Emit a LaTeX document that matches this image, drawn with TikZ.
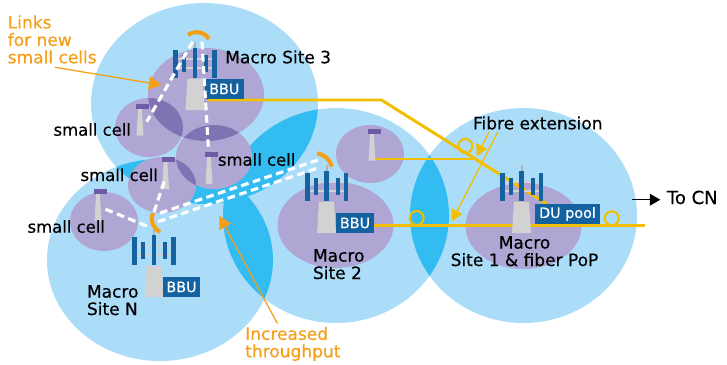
\documentclass[tikz,border=0pt]{standalone}
\usepackage{fontspec}
\setmainfont{DejaVu Sans}[FakeBold=0.4]
\usetikzlibrary{arrows.meta}
\definecolor{celllight}{HTML}{ABDDF9}
\definecolor{celldark}{HTML}{33BCF2}
\definecolor{cellpurple}{HTML}{AFA6D3}
\definecolor{overlappurple}{HTML}{8073B3}
\definecolor{towergrey}{HTML}{D2D2D2}
\definecolor{capurple}{HTML}{6F5BA5}
\definecolor{bbublue}{HTML}{1462A0}
\definecolor{linkorange}{HTML}{F59E17}
\definecolor{fibreyellow}{HTML}{F2BE00}
\tikzset{
  lbl/.style={inner sep=0pt,anchor=base west,align=left,font=\fontsize{12.1}{12.4}\selectfont},
  celllbl/.style={lbl,font=\fontsize{11.7}{12.4}\selectfont},
  boxlbl/.style={inner sep=0pt,fill=bbublue,text=white,minimum height=14.2pt,font=\fontsize{10.2}{12}\selectfont},
  wlink/.style={white,line width=2.2pt,dash pattern=on 5.5pt off 3.2pt},
  fibre/.style={fibreyellow,line width=2.1pt},
  fibrearrow/.style={fibreyellow,line width=0.9pt,-{Triangle[length=2.8mm,width=3mm]}},
  orangearrow/.style={linkorange,line width=0.9pt,-{Triangle[length=3.2mm,width=3.3mm]}},
  dish/.style={linkorange,line width=2.9pt},
  macrotower/.pic={
    \fill[towergrey] (-9.5,0) -- (-7.5,-31.5) -- (7.5,-31.5) -- (9.5,0) -- cycle;
    \draw[towergrey,line width=1pt] (-18,-51) -- (18,-51) (-18,-42) -- (18,-42);
    \foreach \bl/\br/\bt/\bb in {-21.7/-17/-60/-32,-13/-9/-54.7/-38,-2.3/2.3/-62/-32,9/13/-54.7/-38,17/21.7/-60/-32}
      \fill[bbublue] (\bl,\bt) rectangle (\br,\bb);
    \fill[gray!60] (-1,-68) rectangle (1,-62);
  },
  smalltower/.pic={
    \fill[towergrey] (-3.5,0) -- (-1.8,-27) -- (1.8,-27) -- (3.5,0) -- cycle;
    \fill[capurple] (-4,-32) rectangle (9,-27);
  }
}
\begin{document}
\begin{tikzpicture}[x=0.025cm,y=-0.025cm]
\useasboundingbox (0,0) rectangle (727,364);
%coverage areas
\fill[celllight] (204.5,103.5) ellipse [x radius=113.5,y radius=100.5];
\fill[celllight] (160,260) ellipse [x radius=113,y radius=101];
\fill[celllight] (336,215.5) ellipse [x radius=113,y radius=107.5];
\fill[celllight] (523.5,215.5) ellipse [x radius=113.5,y radius=107.5];
\foreach \ax/\ay/\arx/\ary/\bx/\by/\brx/\bry in {204.5/103.5/113.5/100.5/160/260/113/101,204.5/103.5/113.5/100.5/336/215.5/113/107.5,160/260/113/101/336/215.5/113/107.5,336/215.5/113/107.5/523.5/215.5/113.5/107.5}{
  \begin{scope}
    \clip (\ax,\ay) ellipse [x radius=\arx,y radius=\ary];
    \fill[celldark] (\bx,\by) ellipse [x radius=\brx,y radius=\bry];
  \end{scope}
}
%purple cells
\foreach \cx/\cy/\crx/\cry in {206/94.5/58/46.5,149/127.5/34/29.5,214/157/38/32,162/185/34/28,104/221.5/34/29.5,335.5/225/58/43,370/154/34/29,523.5/226/58/43}
  \fill[cellpurple] (\cx,\cy) ellipse [x radius=\crx,y radius=\cry];
\foreach \ax/\ay/\arx/\ary/\bx/\by/\brx/\bry in {206/94.5/58/46.5/149/127.5/34/29.5,206/94.5/58/46.5/214/157/38/32,214/157/38/32/162/185/34/28}{
  \begin{scope}
    \clip (\ax,\ay) ellipse [x radius=\arx,y radius=\ary];
    \fill[overlappurple] (\bx,\by) ellipse [x radius=\brx,y radius=\bry];
  \end{scope}
}
%fibre
\coordinate (bbuend) at (208,100);
\coordinate (bendtop) at (381.5,100);
\coordinate (cellstart) at (375.3,159);
\coordinate (cellend) at (475.3,159);
\coordinate (poptop) at (547,204);
\coordinate (mainstart) at (374,225.3);
\coordinate (mainend) at (645,225.3);
\draw[fibre] (bbuend) -- (bendtop) -- (poptop);
\draw[fibre] (cellstart) -- (cellend);
\draw[fibre] (mainstart) -- (mainend);
\draw[fibreyellow,line width=1.5pt] (416.7,218) circle [radius=7] (611.7,218.3) circle [radius=7] (465.3,146) circle [radius=7];
%towers
\pic at (195,110) {macrotower};
\pic at (154,297) {macrotower};
\pic at (326.5,233) {macrotower};
\pic at (521.5,233) {macrotower};
\pic at (140,135.7) {smalltower};
\pic at (209,184) {smalltower};
\pic at (165.5,189) {smalltower};
\pic at (98,221) {smalltower};
\pic at (372,160.7) {smalltower};
\node[boxlbl,minimum width=28pt] (bbuthree) at (224.3,89) {BBU};
\node[boxlbl,minimum width=26.3pt] (bbun) at (181.5,287) {BBU};
\node[boxlbl,minimum width=27pt] (bbutwo) at (355,223) {BBU};
\node[boxlbl,minimum width=46.2pt] (dupool) at (567.5,214) {DU pool};
%dishes and radio links
\draw[dish] (188,35) .. controls (194,30.5) and (204,31) .. (209,39);
\draw[dish] (153,213) .. controls (150,219) and (152,227) .. (160,232);
\draw[dish] (317.3,153.3) .. controls (324,154.5) and (330,159) .. (331.7,166.7);
\draw[wlink] (192.7,41.7) -- (146.7,121.7);
\draw[wlink] (202,41.7) -- (208.3,146.7);
\draw[wlink] (146.7,226) -- (105,209);
\draw[wlink] (154,212) -- (165,179);
\draw[wlink] (160,213) -- (318,160);
\draw[wlink] (158,221.7) -- (318,168);
%labels
\node[lbl] (macrothree) at (225,63.3) {Macro Site 3};
\node[celllbl] (smalla) at (53.3,135.7) {small cell};
\node[celllbl] (smallb) at (217.7,165.7) {small cell};
\node[celllbl] (smallc) at (80.3,181) {small cell};
\node[celllbl] (smalld) at (27.3,232.7) {small cell};
\node[lbl] (macron) at (86.7,315) {Macro\\Site N};
\node[lbl] (macrotwo) at (312.7,279) {Macro\\Site 2};
\node[lbl,align=center,anchor=base] (macroone) at (524.5,266) {Macro\\Site 1 \& fiber PoP};
\node[lbl] (fibrelbl) at (472.7,129.3) {Fibre extension};
\node[lbl,font=\fontsize{12.8}{13}\selectfont] (tocn) at (666.7,204) {To CN};
\node[lbl,text=linkorange] (links) at (7.5,63.3) {Links\\for new\\small cells};
\node[lbl,text=linkorange] (throughput) at (245,357.3) {Increased\\throughput};
%arrows
\coordinate (linksfrom) at (55,67.3);
\coordinate (linksto) at (161.7,85);
\coordinate (incrfrom) at (277.3,323.3);
\coordinate (incrto) at (219.3,215.7);
\coordinate (fibrea) at (489.3,131.7);
\coordinate (fibreb) at (476.7,156);
\coordinate (fibrec) at (498,131.7);
\coordinate (fibred) at (452,221);
\coordinate (cnfrom) at (632.3,199.7);
\coordinate (cnto) at (660.3,199.7);
\draw[orangearrow] (linksfrom) -- (linksto);
\draw[orangearrow] (incrfrom) -- (incrto);
\draw[fibrearrow] (fibrea) -- (fibreb);
\draw[fibrearrow] (fibrec) -- (fibred);
\draw[black,line width=1.1pt,-{Triangle[length=2.6mm,width=2.9mm]}] (cnfrom) -- (cnto);
\end{tikzpicture}
\end{document}
